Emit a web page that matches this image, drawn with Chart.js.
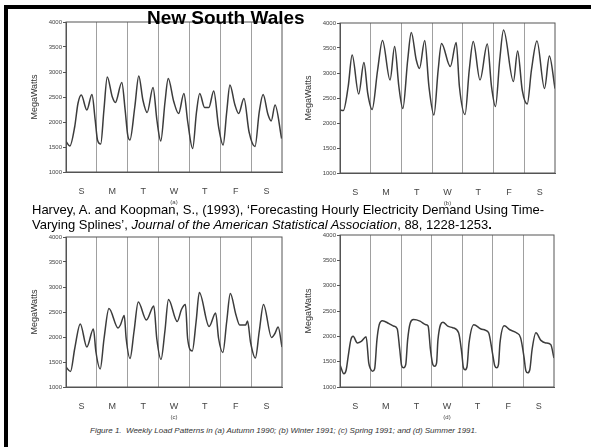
<!DOCTYPE html>
<html>
<head>
<meta charset="utf-8">
<script src="https://cdn.jsdelivr.net/npm/chart.js@4.4.1/dist/chart.umd.min.js"></script>
<style>
  html, body { margin: 0; padding: 0; background: #fff; }
  body { width: 591px; height: 447px; position: relative; overflow: hidden; font-family: "Liberation Sans", Arial, sans-serif; color: #000; }
  canvas { position: absolute; }
  .bar { position: absolute; background: #000; }
  #title { position: absolute; left: 147px; top: 8px; font-size: 19px; line-height: 19px; font-weight: bold; white-space: nowrap; }
  #cite { position: absolute; left: 32px; top: 202px; font-size: 13px; line-height: 15px; white-space: nowrap; }
  #caption { position: absolute; left: 90px; top: 426px; font-size: 8px; line-height: 10px; font-style: italic; color: #333; white-space: nowrap; }
</style>
</head>
<body>
<div class="bar" style="left:4px; top:5px; width:587px; height:4px;"></div>
<div class="bar" style="left:4px; top:5px; width:4px; height:442px;"></div>

<canvas id="chartA" width="270" height="200" style="left:26px; top:10px;"></canvas>
<canvas id="chartB" width="269" height="200" style="left:300px; top:11px;"></canvas>
<canvas id="chartC" width="270" height="200" style="left:26px; top:225px;"></canvas>
<canvas id="chartD" width="268" height="202" style="left:300px; top:223px;"></canvas>

<div id="title">New South Wales</div>
<div id="cite">Harvey, A. and Koopman, S., (1993), ‘Forecasting Hourly Electricity Demand Using Time-<br>Varying Splines’, <i>Journal of the American Statistical Association</i>, 88, 1228-1253<b>.</b></div>
<div id="caption">Figure 1.&nbsp; Weekly Load Patterns in (a) Autumn 1990; (b) Winter 1991; (c) Spring 1991; and (d) Summer 1991.</div>

<script>
const dayLabels = ["S", "M", "T", "W", "T", "F", "S"];

// (a) Autumn 1990 - hour of week / MegaWatts
const hoursA = [0, 3, 6.8, 9.3, 11.9, 16.2, 20.2, 22.7, 24.5, 27, 29.5, 32.1, 35.9, 38.4, 43.4, 46, 48, 49.7, 53.5, 56.6, 59.8, 63.1, 67.7, 70.7, 73.7, 77, 79.5, 83.8, 87.6, 91.7, 94.7, 98.5, 101.5, 104, 107.8, 111.1, 114.9, 118.7, 122.2, 125, 127.5, 131.3, 134.3, 138.4, 142.4, 147, 150.3, 153.3, 157.1, 159.6, 162.6, 167.7];
const loadA = [1610, 1520, 1910, 2370, 2540, 2240, 2550, 2040, 1640, 1560, 2240, 2900, 2510, 2390, 2790, 2240, 1740, 1640, 2300, 2920, 2440, 2190, 2690, 2040, 1620, 2400, 2870, 2410, 2170, 2570, 2000, 1470, 2200, 2570, 2290, 2290, 2620, 1900, 1540, 2200, 2740, 2350, 2170, 2470, 1800, 1510, 2200, 2550, 2150, 2020, 2340, 1670];

// (b) Winter 1991
const hoursB = [0, 2.6, 6.4, 9.5, 14.6, 18.7, 21.7, 25.1, 29.4, 33.2, 39.1, 42.7, 46, 49.1, 52.9, 55.7, 59.6, 62.1, 66.2, 69.5, 73.4, 76.7, 79.3, 86.2, 90.8, 93.3, 97.7, 101, 104.1, 109.4, 115.1, 118.4, 121.5, 124.8, 127.8, 135.5, 138.8, 142.4, 146.3, 149.6, 153.9, 159.8, 163.6, 168];
const loadB = [2260, 2250, 2730, 3360, 2580, 3210, 2590, 2270, 3060, 3650, 2860, 3530, 2730, 2290, 3260, 3810, 3260, 3090, 3650, 2730, 2160, 3060, 3590, 3130, 3610, 2730, 2170, 3060, 3630, 2860, 3580, 2730, 2330, 3260, 3860, 2830, 3440, 2660, 2380, 3060, 3640, 2690, 3340, 2690];

// (c) Spring 1991
const hoursC = [0, 3.5, 6.8, 11.1, 16.2, 21.3, 23.3, 26.6, 29.6, 33.4, 40.5, 42.3, 45.3, 46.8, 49.8, 52.9, 56.2, 62.5, 68.3, 70.6, 73.9, 76.9, 79.7, 86.5, 89.8, 92.9, 94.6, 98.2, 101.2, 103.7, 111.3, 116.4, 118.7, 122, 125, 127.8, 132.1, 135.1, 139.7, 141.2, 143.5, 147.3, 150.3, 153.6, 159.9, 162.5, 165, 168];
const loadC = [1400, 1310, 1770, 2260, 1800, 2160, 1700, 1360, 1970, 2570, 2180, 2240, 2430, 1970, 1570, 2110, 2700, 2340, 2620, 1970, 1550, 2110, 2750, 2310, 2550, 2650, 1970, 1720, 2310, 2890, 2210, 2480, 1970, 1690, 2310, 2870, 2450, 2240, 2240, 2320, 1900, 1580, 2110, 2650, 1990, 2070, 2200, 1800];

// (d) Summer 1991
const hoursD = [0, 3.1, 4.8, 6.4, 8.5, 10.3, 13.6, 16.7, 20.5, 22.6, 24.1, 25.6, 27.2, 29, 30.8, 33.3, 38.5, 42.3, 44.9, 46.9, 48.4, 50, 51.6, 53.1, 55.1, 57.7, 62.8, 67.4, 69.2, 71, 72.8, 74.4, 75.8, 76.9, 80.8, 84.6, 88.5, 93.1, 95.6, 96.8, 98.2, 99.7, 101.3, 105.1, 110.3, 114.1, 116.7, 119.7, 121.5, 123.1, 124.4, 125.6, 129, 133.3, 138.5, 141.8, 144.4, 145.9, 147.4, 149, 150.8, 153.8, 157.7, 161.5, 165.4, 168];
const loadD = [1440, 1260, 1330, 1600, 1930, 2000, 1870, 1900, 1990, 1470, 1350, 1310, 1360, 1930, 2230, 2310, 2250, 2200, 2150, 1740, 1420, 1380, 1440, 1930, 2260, 2330, 2300, 2230, 2200, 1740, 1450, 1410, 1470, 1930, 2280, 2200, 2170, 2070, 1670, 1390, 1340, 1400, 1870, 2230, 2150, 2120, 2070, 1670, 1420, 1380, 1440, 1870, 2210, 2130, 2070, 1970, 1600, 1320, 1280, 1340, 1740, 2070, 1920, 1870, 1840, 1570];

const panels = [
  { id: "chartA", hours: hoursA, load: loadA, tag: "(a)" },
  { id: "chartB", hours: hoursB, load: loadB, tag: "(b)" },
  { id: "chartC", hours: hoursC, load: loadC, tag: "(c)" },
  { id: "chartD", hours: hoursD, load: loadD, tag: "(d)" },
];

const inkColor = "#444";
const frameColor = "#555";

// box round the plot area (top and right sides too)
const framePlugin = {
  id: "frame",
  afterDraw(chart) {
    const { ctx, chartArea: a } = chart;
    ctx.save();
    ctx.strokeStyle = frameColor;
    ctx.lineWidth = 1;
    ctx.strokeRect(a.left, a.top, a.right - a.left, a.bottom - a.top);
    ctx.restore();
  },
};

function makeChart(panel) {
  const ctx = document.getElementById(panel.id).getContext("2d");
  new Chart(ctx, {
    type: "line",
    data: {
      datasets: [
        {
          data: panel.hours.map((h, i) => ({ x: h, y: panel.load[i] })),
          borderColor: "#3c3c3c",
          borderWidth: 1.5,
          pointRadius: 0,
          fill: false,
          cubicInterpolationMode: "monotone",
        },
      ],
    },
    options: {
      responsive: false,
      animation: false,
      layout: { padding: { left: 3, top: 12, right: 10, bottom: 4 } },
      plugins: { legend: { display: false }, tooltip: { enabled: false } },
      scales: {
        x: {
          type: "linear",
          min: 0,
          max: 168,
          afterBuildTicks: (axis) => {
            axis.ticks = [];
            for (let h = 0; h <= 168; h += 12) axis.ticks.push({ value: h });
          },
          afterFit: (axis) => { axis.height = 34; },
          grid: {
            drawTicks: false,
            color: (c) => (c.tick && c.tick.value % 24 === 0 && c.tick.value > 0 && c.tick.value < 168 ? "#a0a0a0" : "transparent"),
            lineWidth: 1,
          },
          border: { color: frameColor },
          ticks: {
            autoSkip: false,
            maxRotation: 0,
            padding: 14,
            color: inkColor,
            font: { family: "Liberation Sans", size: 9 },
            callback: (v) => (v % 24 === 12 ? dayLabels[(v - 12) / 24] : ""),
          },
          title: {
            display: true,
            text: panel.tag,
            color: inkColor,
            padding: { top: 0, bottom: 0 },
            font: { family: "Liberation Sans", size: 6 },
          },
        },
        y: {
          min: 1000,
          max: 4000,
          afterFit: (axis) => { axis.width = 37; },
          ticks: {
            stepSize: 500,
            padding: 1,
            color: inkColor,
            font: { family: "Liberation Sans", size: 6 },
            callback: (v) => String(v),
          },
          grid: { drawOnChartArea: false, tickLength: 3, color: frameColor },
          border: { color: frameColor },
          title: {
            display: true,
            text: "MegaWatts",
            color: "#333",
            padding: { top: 0, bottom: 0 },
            font: { family: "Liberation Sans", size: 9 },
          },
        },
      },
    },
    plugins: [framePlugin],
  });
}

panels.forEach(makeChart);
</script>
</body>
</html>
